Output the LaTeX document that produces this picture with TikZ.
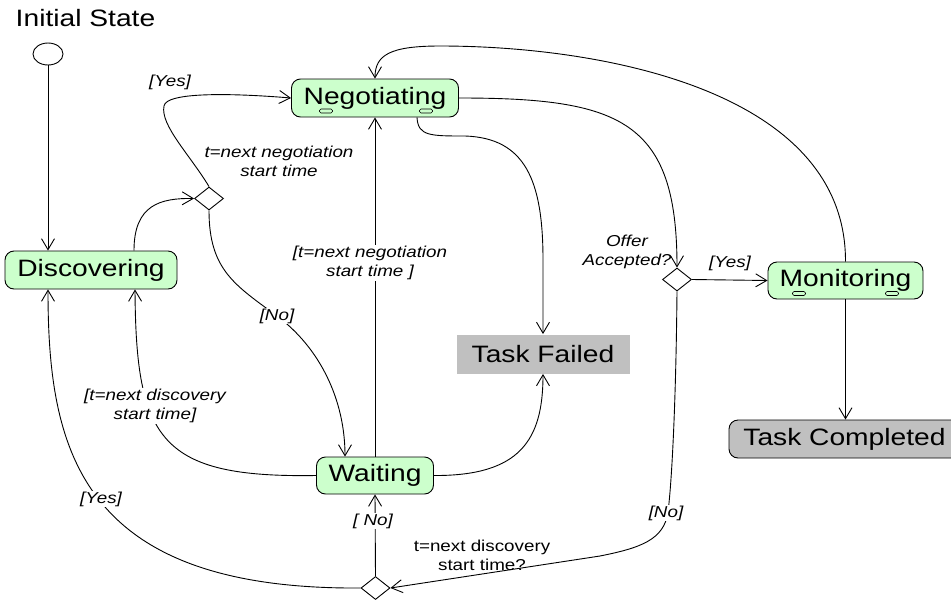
\documentclass[tikz,border=0pt]{standalone}
\usepackage{fontspec}
\setmainfont{Liberation Sans}[FakeStretch=1.19]
\usetikzlibrary{arrows.meta,shapes.geometric}
\definecolor{stategreen}{HTML}{CCFFCC}
\definecolor{endgray}{HTML}{C0C0C0}
\begin{document}
\begin{tikzpicture}[x=1pt, y=-1pt, line width=0.9pt,
    >={Straight Barb[length=11pt,width=13pt]},
    S/.style={draw, rounded corners=9pt, fill=stategreen, minimum height=38pt, inner sep=0pt, font=\fontsize{23.7}{28}\selectfont},
    F/.style={fill=endgray, minimum height=39pt, inner sep=0pt, font=\fontsize{23.7}{28}\selectfont},
    D/.style={draw, diamond, fill=white, minimum width=29pt, minimum height=23pt, inner sep=0pt},
    L/.style={font=\fontsize{15.8}{18.7}\selectfont\itshape, align=center, inner sep=1pt},
    W/.style={L, fill=white},
    I/.style={draw, fill=stategreen, rounded corners=1.5pt, line width=0.6pt}
  ]
  \clip (0,0) rectangle (951,600);
  \node[anchor=base, font=\fontsize{23.7}{28}\selectfont] (title) at (85.5,26) {Initial State};
  \node[draw, ellipse, minimum width=30pt, minimum height=22pt, inner sep=0pt] (init) at (48,54) {};
  \node[S, minimum width=172pt] (disc) at (91,270) {Discovering};
  \node[S, minimum width=167pt] (neg) at (375,98) {Negotiating};
  \node[S, minimum width=117pt, minimum height=37pt] (wait) at (375,475.5) {Waiting};
  \node[S, minimum width=155pt, minimum height=37pt] (mon) at (845.5,280.5) {Monitoring};
  \node[F, minimum width=173pt] (fail) at (543,354) {Task Failed};
  \node[F, draw, rounded corners=9pt, minimum width=231pt, minimum height=38pt] (done) at (844.5,439) {Task Completed};
  \node[D] (d1) at (209,198.5) {};
  \node[D] (d2) at (677,279.5) {};
  \node[D] (bot) at (375.5,588) {};
  \foreach \x/\y in {326/111, 426/111, 799/293.5, 892/293.5}
    \draw[I] (\x-6.5,\y-2) rectangle (\x+6.5,\y+2);

  \draw[->] (init.south) -- (init.south |- disc.north);
  \draw[->] ([xshift=43pt]disc.north) .. controls (134,205) and (160,198) .. (d1.west);
  \draw[->] (d1.north) .. controls (190,155) and (160,125) .. (164,106) .. controls (166,92) and (230,93) .. (neg.west);
  \draw[->] (d1.south) .. controls (209,270) and (235,285) .. (277,316) .. controls (320,348) and (345,400) .. ([xshift=-30pt]wait.north);
  \draw[->] (wait.west) .. controls (160,478) and (136,440) .. ([xshift=44pt]disc.south);
  \draw[->] (wait.north) -- (neg.south);
  \draw[->] (wait.east) .. controls (520,476) and (543,440) .. (fail.south);
  \draw[->] ([xshift=42pt]neg.south) .. controls (418,136) and (430,136) .. (465,136) .. controls (525,138) and (543,180) .. (543,260) -- (fail.north);
  \draw[->] (neg.east) .. controls (620,98) and (677,120) .. (d2.north);
  \draw[->] (d2.east) -- (mon.west);
  \draw[->] (mon.north) .. controls (846,90) and (600,46) .. (440,46) .. controls (390,46) and (375,55) .. (neg.north);
  \draw[->] (mon.south) -- (mon.south |- done.north);
  \draw[->] (d2.south) .. controls (676,400) and (672,480) .. (668,512) .. controls (664,540) and (640,548) .. (600,556) -- (bot.east);
  \draw[->] (bot.north) -- (wait.south);
  \draw[->] (bot.west) .. controls (80,590) and (48,450) .. ([xshift=-43pt]disc.south);

  \node[L] (yes1) at (170,82) {[Yes]};
  \node[L] (negtime) at (279,161) {t=next negotiation\\start time};
  \node[W] (no1) at (277,316) {[No]};
  \node[W] (disctime) at (155,406) {[t=next discovery\\start time]};
  \node[W] (negguard) at (370,263) {[t=next negotiation\\start time ]};
  \node[L] (offer) at (627,252) {Offer\\Accepted?};
  \node[L] (yes2) at (730,263) {[Yes]};
  \node[W] (no2) at (666,513) {[No]};
  \node[L, font=\fontsize{15.8}{18.7}\selectfont] (disctime2) at (482,555) {t=next discovery\\start time?};
  \node[W] (no3) at (373,521) {[ No]};
  \node[W] (yes3) at (101,499) {[Yes]};
\end{tikzpicture}
\end{document}
